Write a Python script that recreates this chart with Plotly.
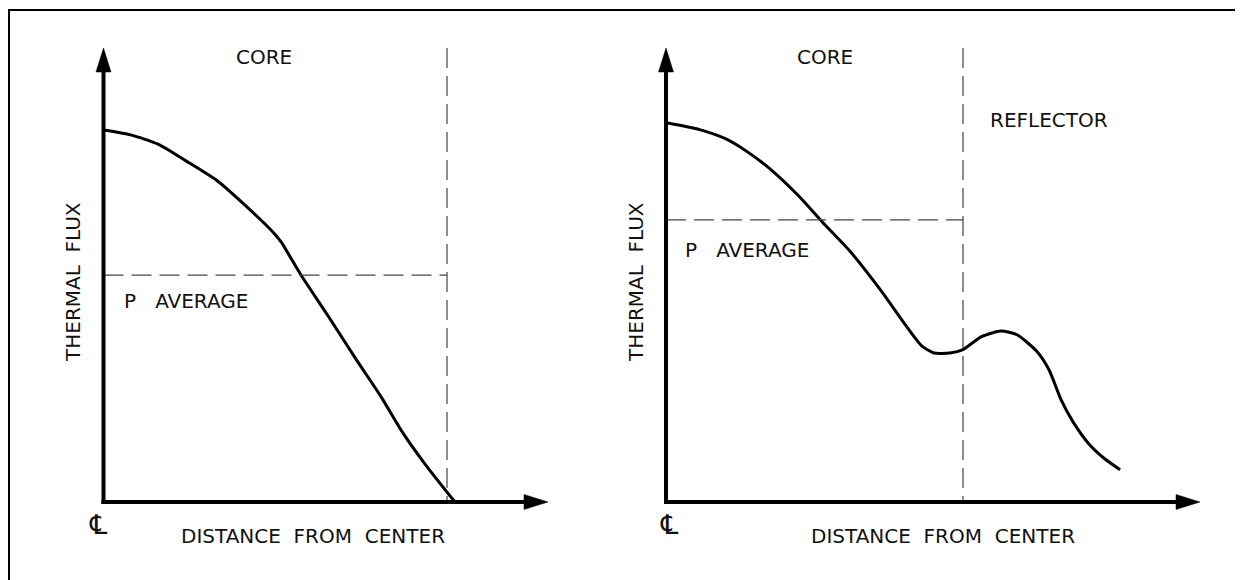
import plotly.graph_objects as go

# ---------------- data (normalised units: distance / core radius, flux / peak flux) -------------
left_distance = [0.0, 0.079, 0.159, 0.240, 0.332, 0.412, 0.493, 0.517, 0.573, 0.654, 0.735, 0.810, 0.872, 0.936, 1.023]
left_flux = [1.0, 0.987, 0.962, 0.917, 0.863, 0.798, 0.726, 0.699, 0.613, 0.500, 0.384, 0.280, 0.185, 0.102, 0.0]
left_p_average = 0.610

right_distance = [0.0, 0.113, 0.200, 0.273, 0.354, 0.447, 0.527, 0.621, 0.727, 0.808, 0.862, 0.902, 0.956,
                  1.0, 1.062, 1.128, 1.182, 1.249, 1.290, 1.330, 1.370, 1.424, 1.477, 1.529]
right_flux = [1.0, 0.982, 0.958, 0.924, 0.876, 0.807, 0.738, 0.660, 0.554, 0.465, 0.411, 0.393, 0.393,
              0.402, 0.436, 0.451, 0.441, 0.397, 0.348, 0.270, 0.212, 0.153, 0.114, 0.085]
right_p_average = 0.744

core_edge = 1.0

labels = {
    "y": "THERMAL\u00a0\u00a0FLUX",
    "x": "DISTANCE\u00a0\u00a0FROM\u00a0\u00a0CENTER",
    "core": "CORE",
    "reflector": "REFLECTOR",
    "pavg": "P\u00a0\u00a0\u00a0AVERAGE",
    "cl": "\u2104",
}

# ---------------- layout geometry (pixels, as seen on the page) ----------------
W, H = 1243, 580
PAGE_OFFSET = 8  # default body margin of the html page
FONT = dict(family="DejaVu Sans", size=20, color="#111111")

panels = [
    dict(ox=103.5, oy=502, xtip=548, ytip=48, sx=343.5, sy=372.0, name=""),
    dict(ox=666.0, oy=502, xtip=1200, ytip=48, sx=297.0, sy=379.2, name="2"),
]


def PX(x):
    return (x - PAGE_OFFSET) / W


def PY(y):
    return 1 - (y - PAGE_OFFSET) / H


fig = go.Figure()
shapes = []
annotations = []

for i, p in enumerate(panels):
    xa = "xaxis" + p["name"]
    ya = "yaxis" + p["name"]
    xr = "x" + p["name"]
    yr = "y" + p["name"]
    fig.update_layout(**{
        xa: dict(domain=[PX(p["ox"]), PX(p["xtip"])], range=[0, (p["xtip"] - p["ox"]) / p["sx"]],
                 visible=False, anchor=yr, fixedrange=True),
        ya: dict(domain=[PY(p["oy"]), PY(p["ytip"])], range=[0, (p["oy"] - p["ytip"]) / p["sy"]],
                 visible=False, anchor=xr, fixedrange=True),
    })
    ymax = (p["oy"] - p["ytip"]) / p["sy"]

    dist = left_distance if i == 0 else right_distance
    flux = left_flux if i == 0 else right_flux
    pavg = left_p_average if i == 0 else right_p_average

    fig.add_trace(go.Scatter(x=dist, y=flux, mode="lines", xaxis=xr, yaxis=yr,
                             line=dict(color="black", width=3, shape="spline", smoothing=0.6),
                             hoverinfo="skip", showlegend=False))

    dash = dict(color="#444444", width=1.2, dash="20px,8px")
    # P average line
    shapes.append(dict(type="line", xref=xr, yref=yr, x0=0, x1=core_edge, y0=pavg, y1=pavg, line=dash))
    # core boundary
    shapes.append(dict(type="line", xref=xr, yref=yr, x0=core_edge, x1=core_edge, y0=ymax, y1=0, line=dash))

    ox, oy = p["ox"], p["oy"]
    # axes with arrowheads
    shapes.append(dict(type="line", xref="paper", yref="paper", x0=PX(ox), x1=PX(ox), y0=PY(oy + 2), y1=PY(p["ytip"] + 14),
                       line=dict(color="black", width=4)))
    shapes.append(dict(type="line", xref="paper", yref="paper", x0=PX(ox - 2), x1=PX(p["xtip"] - 14), y0=PY(oy), y1=PY(oy),
                       line=dict(color="black", width=4)))
    shapes.append(dict(type="path", xref="paper", yref="paper",
                       path=f"M {PX(ox)},{PY(p['ytip'])} L {PX(ox - 7.5)},{PY(p['ytip'] + 24)} L {PX(ox + 7.5)},{PY(p['ytip'] + 24)} Z",
                       fillcolor="black", line=dict(color="black", width=0.5)))
    shapes.append(dict(type="path", xref="paper", yref="paper",
                       path=f"M {PX(p['xtip'])},{PY(oy)} L {PX(p['xtip'] - 24)},{PY(oy - 7.5)} L {PX(p['xtip'] - 24)},{PY(oy + 7.5)} Z",
                       fillcolor="black", line=dict(color="black", width=0.5)))


# text labels (pixel positions)
def ann(text, x, y, angle=0, xanchor="center", size=20):
    annotations.append(dict(text=text, x=PX(x), y=PY(y), xref="paper", yref="paper", showarrow=False,
                            font=dict(FONT, size=size), textangle=angle, xanchor=xanchor, yanchor="middle"))


ann(labels["core"], 264, 57)
ann(labels["core"], 825, 57)
ann(labels["reflector"], 1049, 120)
ann(labels["pavg"], 122, 301, xanchor="left")
ann(labels["pavg"], 683, 250, xanchor="left")
ann(labels["y"], 73, 282, angle=-90)
ann(labels["y"], 636, 282, angle=-90)
ann(labels["x"], 313, 536)
ann(labels["x"], 943, 536)
ann(labels["cl"], 98, 524, size=27)
ann(labels["cl"], 669, 524, size=27)

# outer frame (top and left edges visible)
shapes.append(dict(type="line", xref="paper", yref="paper", x0=PX(8), x1=1, y0=PY(10), y1=PY(10),
                   line=dict(color="black", width=2)))
shapes.append(dict(type="line", xref="paper", yref="paper", x0=PX(9), x1=PX(9), y0=PY(9), y1=0,
                   line=dict(color="black", width=2)))

fig.update_layout(width=W, height=H, margin=dict(l=0, r=0, t=0, b=0),
                  paper_bgcolor="white", plot_bgcolor="white",
                  shapes=shapes, annotations=annotations, showlegend=False)

fig.write_html("out.html")
